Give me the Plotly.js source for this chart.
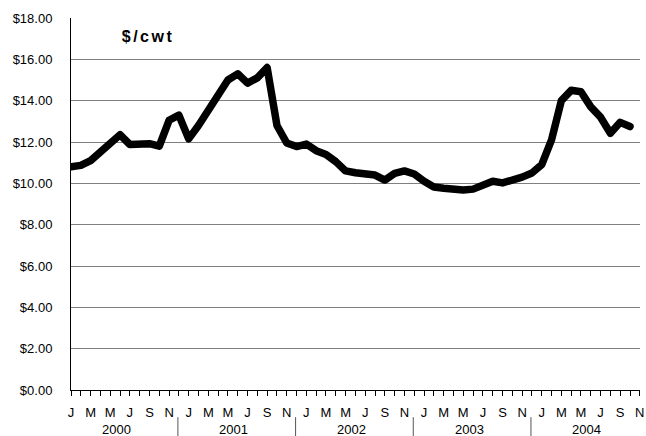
<!DOCTYPE html>
<html>
<head>
<meta charset="utf-8">
<script src="https://cdn.plot.ly/plotly-3.0.1.min.js"></script>
<style>
  html, body { margin: 0; padding: 0; background: #fff; }
  #chart { width: 646px; height: 436px; }
  .scatterlayer .js-line { stroke-linejoin: round !important; stroke-linecap: round !important; }
  .annotation[data-index="0"] text { letter-spacing: 2.5px; }
</style>
</head>
<body>
<div id="chart"></div>
<script>
// Month initials used on the category axis
const monthLetters = ['J','F','M','A','M','J','J','A','S','O','N','D'];
const years = ['2000', '2001', '2002', '2003', '2004'];
// Monthly price, $/cwt
const price2000 = [10.80, 10.87, 11.10, 11.50, 11.95, 12.35, 11.88, 11.88, 11.92, 11.80, 13.05, 13.30];
const price2001 = [12.15, 12.80, 13.50, 14.35, 15.00, 15.30, 14.85, 15.10, 15.60, 12.80, 11.95, 11.78];
const price2002 = [11.90, 11.58, 11.40, 11.05, 10.60, 10.51, 10.45, 10.40, 10.16, 10.48, 10.60, 10.45];
const price2003 = [10.10, 9.82, 9.76, 9.70, 9.68, 9.72, 9.93, 10.10, 10.02, 10.14, 10.30, 10.50];
const price2004 = [10.90, 12.10, 14.00, 14.50, 14.43, 13.70, 13.20, 12.42, 12.95, 12.75];
const unitLabel = '$/cwt';

const prices = [].concat(price2000, price2001, price2002, price2003, price2004);
const xIdx = prices.map((_, i) => i);
const nAxisMonths = 59; // Jan 2000 .. Nov 2004 on the axis
const tickVals = [], tickText = [];
for (let i = 0; i < nAxisMonths; i++) {
  tickVals.push(i);
  tickText.push(i % 2 === 0 ? monthLetters[i % 12] : '');
}

const font = 'Liberation Sans, Arial, sans-serif';

const annotations = [{
  text: '<b>' + unitLabel + '</b>', xref: 'paper', yref: 'paper',
  x: 0.096, y: 0.95, xanchor: 'left', yanchor: 'middle', showarrow: false,
  font: { family: font, size: 16, color: '#000' }
}];
years.forEach((y, i) => {
  annotations.push({
    text: y, xref: 'x', yref: 'paper', x: 12 * i + 4.6, y: -0.105,
    xanchor: 'center', yanchor: 'middle', showarrow: false,
    font: { family: font, size: 13, color: '#000' }
  });
});
const shapes = [];
for (let i = 0; i < years.length - 1; i++) {
  shapes.push({
    type: 'line', xref: 'x', yref: 'paper',
    x0: 12 * i + 10.9, x1: 12 * i + 10.9, y0: -0.073, y1: -0.124,
    line: { color: '#555', width: 1 }
  });
}

const trace = {
  x: xIdx, y: prices, type: 'scatter', mode: 'lines',
  line: { color: '#000', width: 7.5, shape: 'linear' },
  hoverinfo: 'skip'
};

const layout = {
  width: 646, height: 436,
  margin: { l: 71, r: 6, t: 18, b: 46, pad: 0 },
  paper_bgcolor: '#fff', plot_bgcolor: '#fff',
  showlegend: false,
  font: { family: font, size: 13, color: '#000' },
  xaxis: {
    range: [0, 58.02], tickvals: tickVals, ticktext: tickText,
    ticks: 'outside', ticklen: 5, tickwidth: 1, tickcolor: '#000',
    showline: true, linecolor: '#000', linewidth: 1,
    showgrid: false, zeroline: false, automargin: false,
    ticklabelstandoff: 5, ticklabeloverflow: 'allow',
    tickfont: { family: font, size: 13, color: '#000' }
  },
  yaxis: {
    range: [0, 18], dtick: 2, tick0: 0, tickprefix: '$', tickformat: '.2f',
    ticks: '', showline: true, linecolor: '#000', linewidth: 1,
    showgrid: true, gridcolor: '#808080', gridwidth: 1,
    zeroline: false, automargin: false,
    ticklabelstandoff: 15,
    tickfont: { family: font, size: 13, color: '#000' }
  },
  annotations: annotations,
  shapes: shapes
};

Plotly.newPlot('chart', [trace], layout, { staticPlot: true, displayModeBar: false });
</script>
</body>
</html>
